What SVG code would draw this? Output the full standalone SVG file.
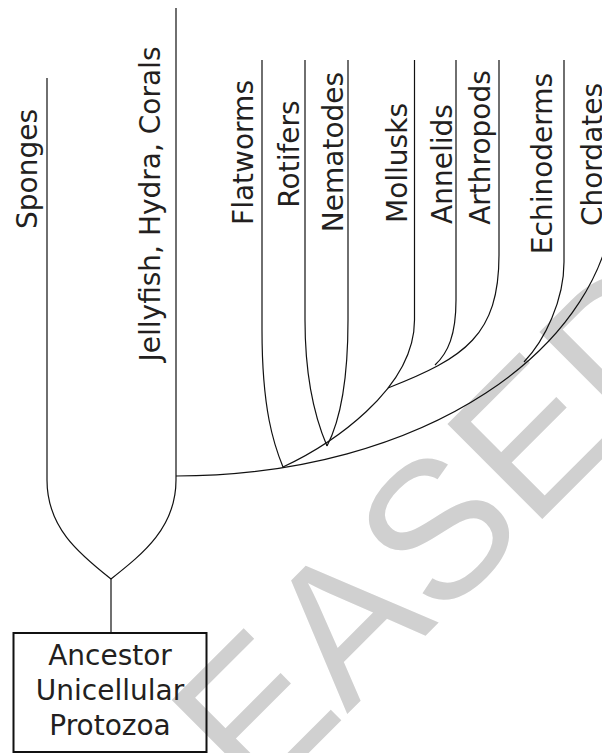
<svg xmlns="http://www.w3.org/2000/svg" width="602" height="753" viewBox="0 0 602 753">
<style>
.lbl{font-family:"DejaVu Sans","Verdana",sans-serif;font-size:28px;fill:#231f20;text-anchor:middle}
.ln{fill:none;stroke:#111;stroke-width:1.2}
.wm{font-family:"Liberation Sans",Arial,sans-serif;font-size:195px;fill:#d0d0d0}
</style>
<rect width="602" height="753" fill="#fff"/>
<g id="watermark">
<text class="wm" transform="translate(-13.1,1074.4) rotate(-45)">RELEASED</text>
</g>
<g id="connectors">
<path class="ln" d="M47,78 V480 C47,527 78,553 111,579"/>
<path class="ln" d="M176,8 V476 V480 C176,527 144,553 111,579"/>
<path class="ln" d="M111,579 V633"/>
<path class="ln" d="M176,476 C420,476 612,350 615,190 V60"/>
<path class="ln" d="M262,60 V330 C262,410 274,445 283,467"/>
<path class="ln" d="M305,60 V320 C305,385 318,425 327,446"/>
<path class="ln" d="M348,60 V320 C348,390 338,425 327,446"/>
<path class="ln" d="M414.5,60 V320 C414.5,390 330,445 283,467"/>
<path class="ln" d="M499,60 V255 C499,335 465,358 388,388"/>
<path class="ln" d="M456,60 V300 C456,335 448,353 435,365"/>
<path class="ln" d="M564,60 V262 C564,300 545,340 524,362"/>
</g>
<g id="sponges"><text class="lbl" transform="translate(37,169) rotate(-90)">Sponges</text></g>
<g id="jellyfish"><text class="lbl" transform="translate(160,204) rotate(-90)">Jellyfish, Hydra, Corals</text></g>
<g id="flatworms"><text class="lbl" transform="translate(253,152.5) rotate(-90)">Flatworms</text></g>
<g id="rotifers"><text class="lbl" transform="translate(299,154) rotate(-90)">Rotifers</text></g>
<g id="nematodes"><text class="lbl" transform="translate(343,152) rotate(-90)">Nematodes</text></g>
<g id="mollusks"><text class="lbl" transform="translate(407,163) rotate(-90)">Mollusks</text></g>
<g id="annelids"><text class="lbl" transform="translate(452,164) rotate(-90)">Annelids</text></g>
<g id="arthropods"><text class="lbl" transform="translate(490,147.5) rotate(-90)">Arthropods</text></g>
<g id="echinoderms"><text class="lbl" transform="translate(552,163.5) rotate(-90)">Echinoderms</text></g>
<g id="chordates"><text class="lbl" transform="translate(602,154.5) rotate(-90)">Chordates</text></g>
<g id="ancestor">
<rect x="13.5" y="633" width="193" height="119" fill="none" stroke="#111" stroke-width="2"/>
<text class="lbl" x="110" y="665">Ancestor</text>
<text class="lbl" x="110" y="700">Unicellular</text>
<text class="lbl" x="110" y="735">Protozoa</text>
</g>
</svg>
